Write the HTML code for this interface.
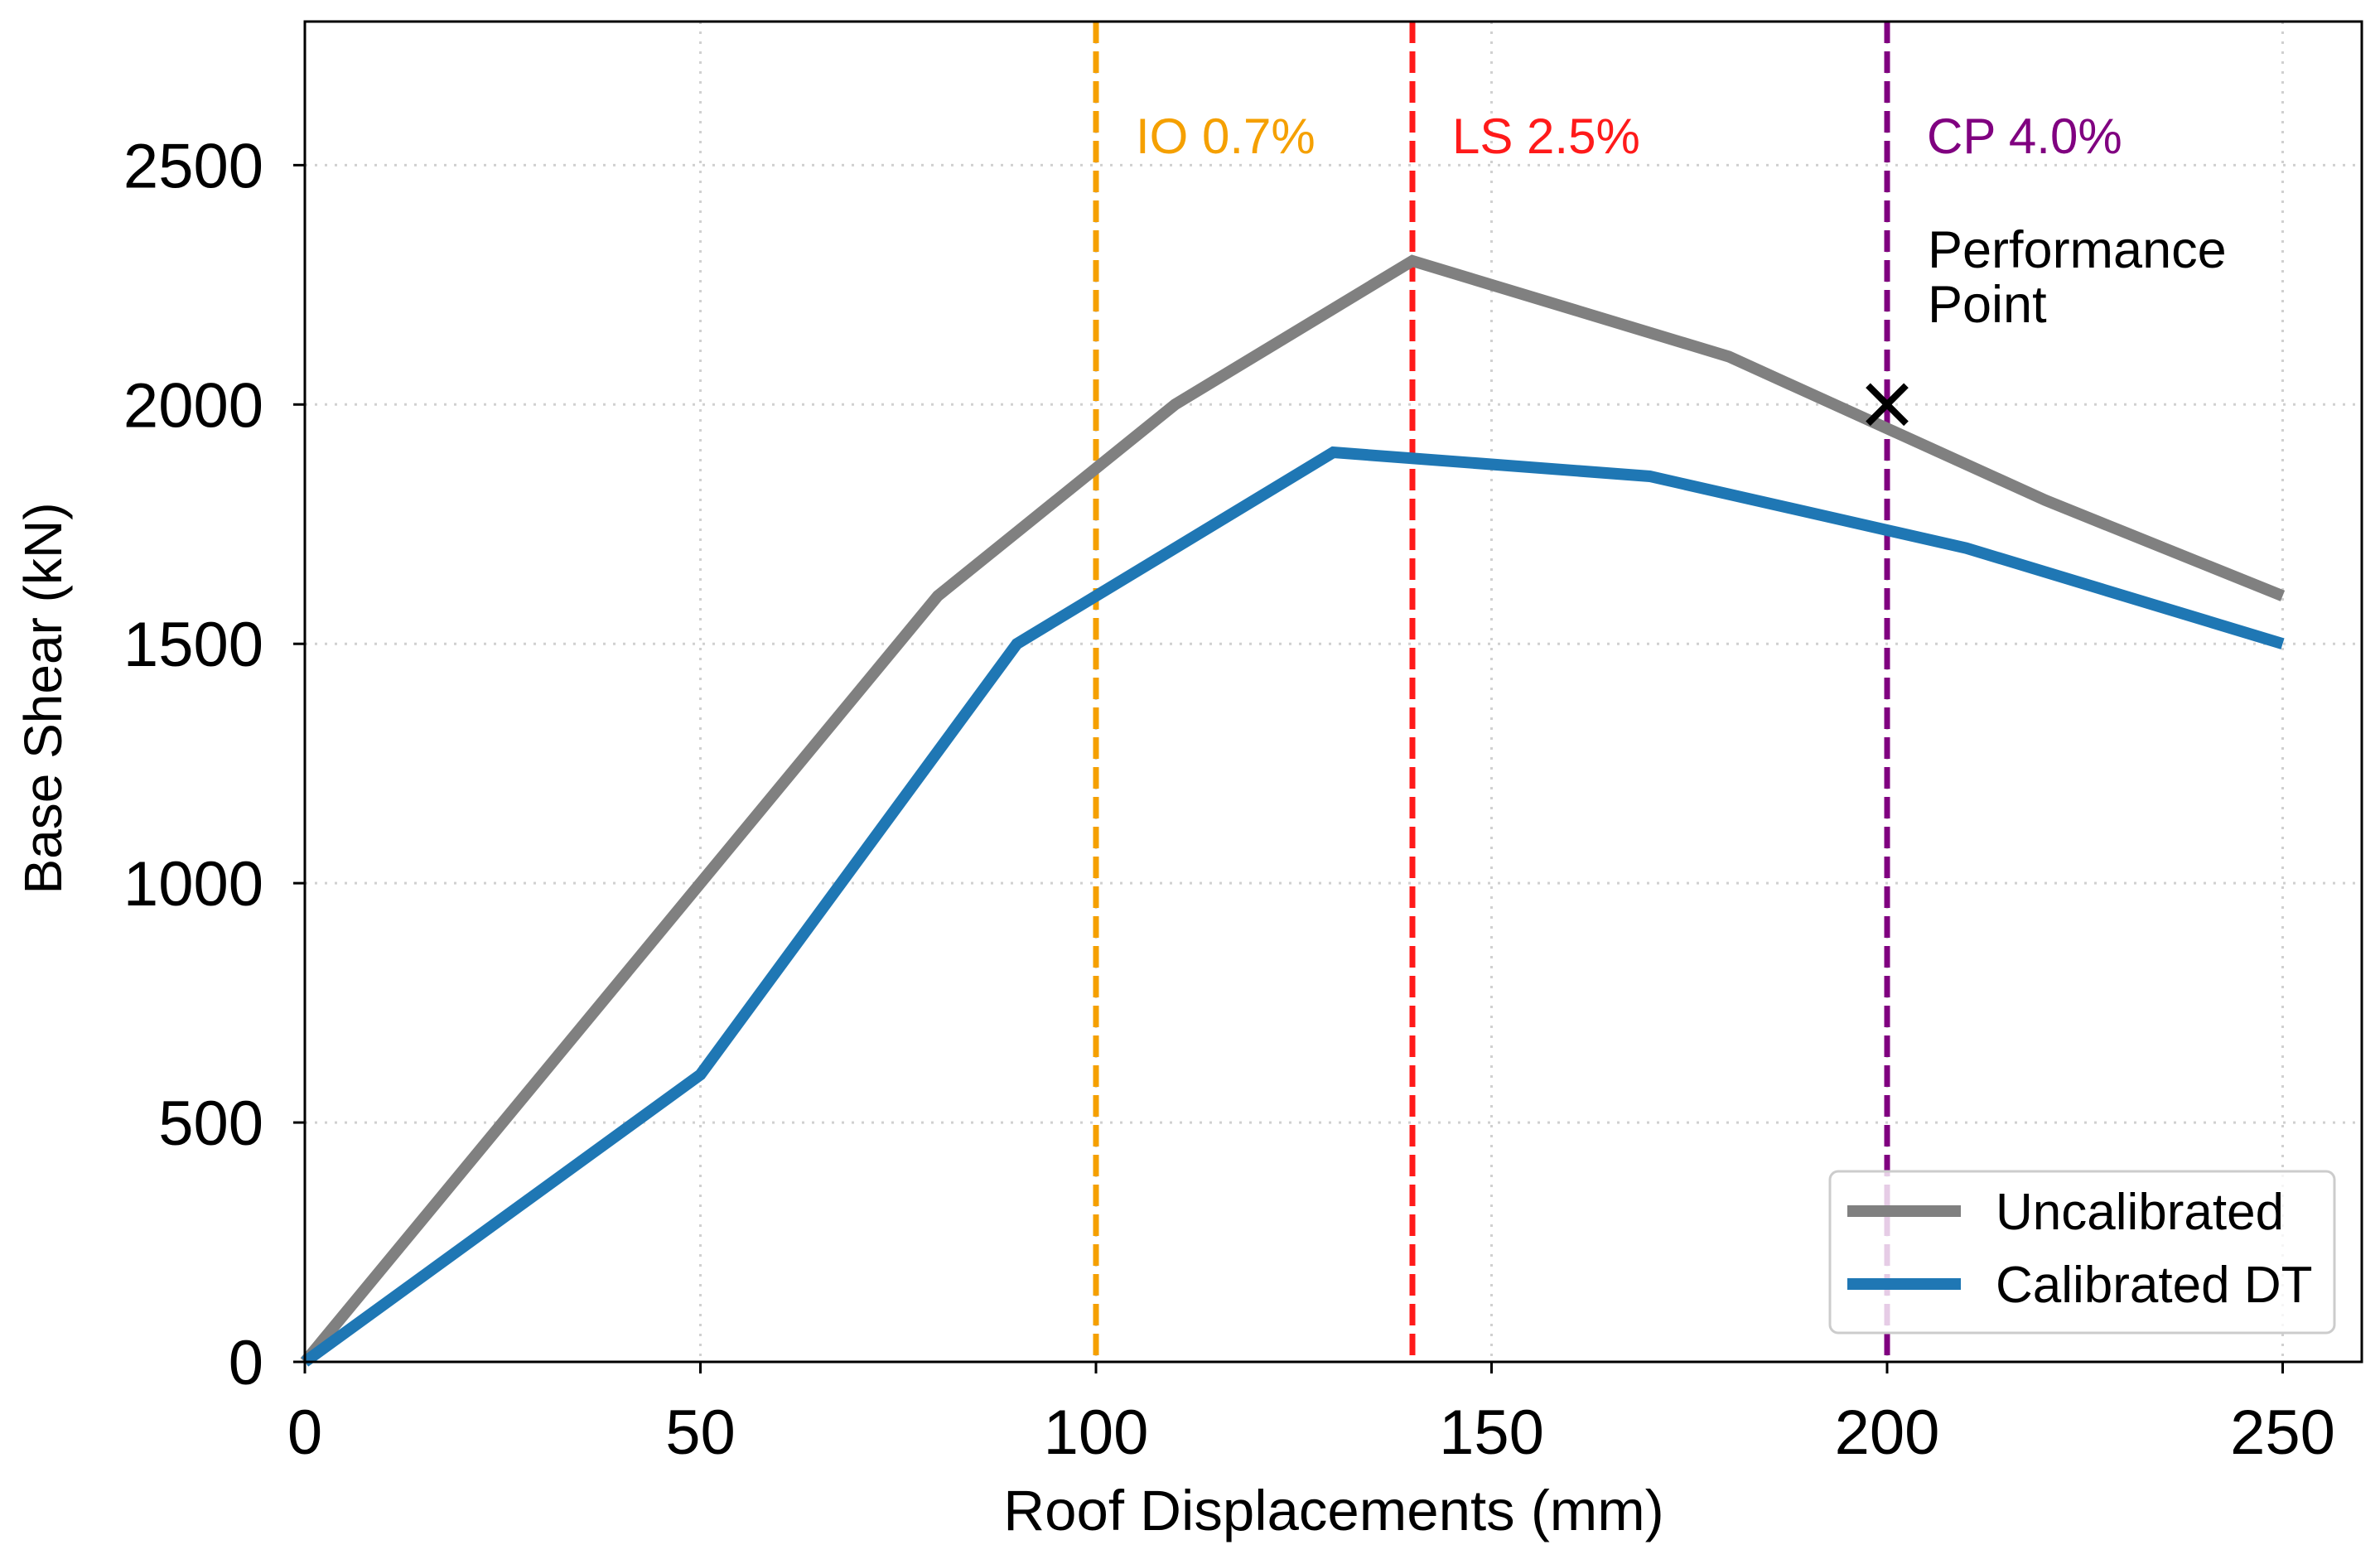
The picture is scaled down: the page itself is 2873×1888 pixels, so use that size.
<!DOCTYPE html>
<html><head><meta charset="utf-8"><style>
html,body{margin:0;padding:0;background:#fff}
svg{display:block}
text{font-family:"Liberation Sans",sans-serif}
</style></head><body>
<svg id="chart" width="2873" height="1888" viewBox="0 0 2873 1888" xmlns="http://www.w3.org/2000/svg">
<g id="grid"></g>
<g id="vlines"></g>
<g id="series"></g>
<g id="axes"></g>
<g id="annot"></g>
<g id="legend"></g>
</svg>
<script>
const xTicks = [0, 50, 100, 150, 200, 250];
const yTicks = [0, 500, 1000, 1500, 2000, 2500];
const uncalX = [0, 50, 80, 110, 140, 180, 220, 250];
const uncalY = [0, 1000, 1600, 2000, 2300, 2100, 1800, 1600];
const calX = [0, 50, 90, 130, 170, 210, 250];
const calY = [0, 600, 1500, 1900, 1850, 1700, 1500];
const levelX = [100, 140, 200];
const levelLabels = ["IO 0.7%", "LS 2.5%", "CP 4.0%"];
const levelColors = ["#f5a000", "#ff1a1a", "#800080"];
const perfX = [200];
const perfY = [2000];
const seriesNames = ["Uncalibrated", "Calibrated DT"];

const L=368,R=2851,T=26,B=1644, XMAX=260, YMAX=2800;
const sx=v=>L+(v/XMAX)*(R-L);
const sy=v=>B-(v/YMAX)*(B-T);
const NS="http://www.w3.org/2000/svg";
function mk(tag,attrs,parent,txt){const e=document.createElementNS(NS,tag);for(const k in attrs)e.setAttribute(k,attrs[k]);if(txt!==undefined)e.textContent=txt;parent.appendChild(e);return e;}
const grid=document.getElementById('grid'),vl=document.getElementById('vlines'),se=document.getElementById('series'),ax=document.getElementById('axes'),an=document.getElementById('annot'),lg=document.getElementById('legend');

xTicks.forEach(t=>{
 const g=mk('line',{x1:sx(t),x2:sx(t),y1:T,y2:B,stroke:'#d0d0d0','stroke-width':3,'stroke-dasharray':'3 9'},grid);
 
 
 const tk=mk('line',{x1:sx(t),x2:sx(t),y1:B,y2:B+14,stroke:'#000','stroke-width':3},ax);
 
 
 const lb=mk('text',{x:sx(t),y:1755,'font-size':76,'text-anchor':'middle',fill:'#000'},ax,String(t));
 
 
});
yTicks.forEach(t=>{
 const g=mk('line',{x1:L,x2:R,y1:sy(t),y2:sy(t),stroke:'#d0d0d0','stroke-width':3,'stroke-dasharray':'3 9'},grid);
 
 
 const tk=mk('line',{x1:L-14,x2:L,y1:sy(t),y2:sy(t),stroke:'#000','stroke-width':3},ax);
 
 
 const lb=mk('text',{x:318,y:sy(t)+27,'font-size':76,'text-anchor':'end',fill:'#000','textLength':'','lengthAdjust':'spacingAndGlyphs'},ax,String(t));
 lb.removeAttribute('textLength');
 
 
});
levelX.forEach((v,i)=>{
 const l=mk('line',{x1:sx(v),x2:sx(v),y1:T,y2:B,stroke:levelColors[i],'stroke-width':7,'stroke-dasharray':'26 10'},vl);
 
 
 const t=mk('text',{x:sx(v)+48,y:185,'font-size':60,fill:levelColors[i]},an,levelLabels[i]);
 
 
});
function poly(xs,ys,color,name){
 const p=mk('polyline',{points:xs.map((x,i)=>sx(x)+','+sy(ys[i])).join(' '),fill:'none',stroke:color,'stroke-width':14,'stroke-linejoin':'miter'},se);
 
 
}
poly(uncalX,uncalY,'#808080','uncalibrated-line');
poly(calX,calY,'#1f77b4','calibrated-dt-line');
perfX.forEach((v,i)=>{
 const cx=sx(v),cy=sy(perfY[i]),s=23;
 const g=mk('path',{d:`M${cx-s},${cy-s}L${cx+s},${cy+s}M${cx-s},${cy+s}L${cx+s},${cy-s}`,stroke:'#000','stroke-width':8,fill:'none'},an);
 
 
});
const p1=mk('text',{x:2327,y:323,'font-size':63,fill:'#000'},an,'Performance');


const p2=mk('text',{x:2327,y:389,'font-size':63,fill:'#000'},an,'Point');



const frame=mk('rect',{x:L,y:T,width:R-L,height:B-T,fill:'none',stroke:'#000','stroke-width':3},ax);


const xt=mk('text',{x:1610,y:1847,'font-size':69,'text-anchor':'middle',fill:'#000'},ax,'Roof Displacements (mm)');


const yt=mk('text',{x:0,y:0,'font-size':64,'text-anchor':'middle',fill:'#000',transform:'translate(74,843) rotate(-90)'},ax,'Base Shear (kN)');



const box=mk('rect',{x:2209,y:1414,width:609,height:195,rx:10,fill:'rgba(255,255,255,0.8)',stroke:'#cccccc','stroke-width':3},lg);


const lcol=['#808080','#1f77b4'];
seriesNames.forEach((n,i)=>{
 const y=1462+i*88;
 const ln=mk('line',{x1:2230,x2:2367,y1:y,y2:y,stroke:lcol[i],'stroke-width':14},lg);
 
 
 const t=mk('text',{x:2409,y:y+22,'font-size':62,fill:'#000'},lg,n);
 
 
});
</script>
</body></html>
